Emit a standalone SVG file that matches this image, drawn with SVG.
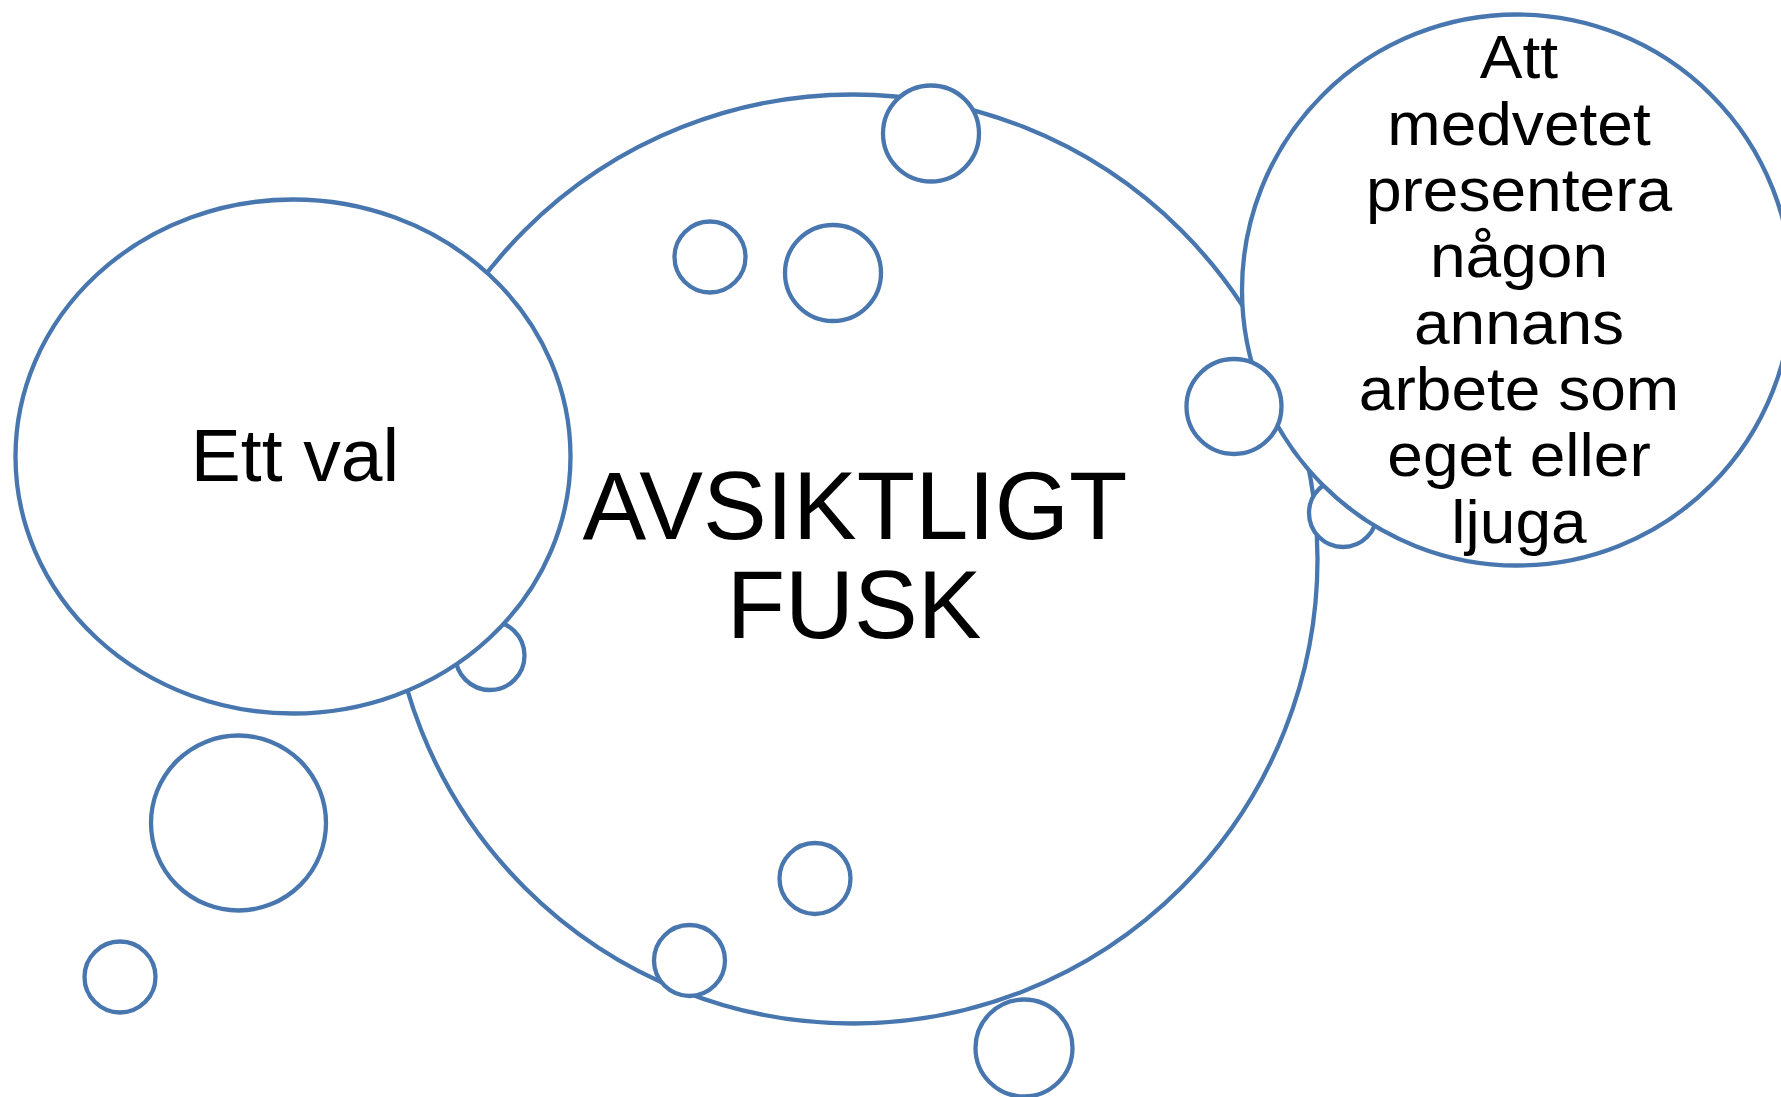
<svg xmlns="http://www.w3.org/2000/svg" width="1781" height="1097" viewBox="0 0 1781 1097">
<style>
.s{fill:#fff;stroke:#4876ae;stroke-width:4.3}
.t{font-family:"Liberation Sans",Arial,sans-serif;fill:#000;text-anchor:middle}
</style>
<rect width="1781" height="1097" fill="#fff"/>
<g id="connectors"></g>
<g id="main">
<circle class="s" cx="853" cy="559" r="464.5"/>
<text class="t" font-size="95.5"><tspan x="855" y="539">AVSIKTLIGT</tspan><tspan x="854" y="638">FUSK</tspan></text>
</g>
<g id="bubble2"><circle class="s" cx="710" cy="257" r="35.5"/></g>
<g id="bubble3"><circle class="s" cx="833" cy="273" r="48"/></g>
<g id="bubble1"><circle class="s" cx="931" cy="133.5" r="48"/></g>
<g id="bubble6"><circle class="s" cx="490" cy="655.5" r="34.5"/></g>
<g id="ettval">
<ellipse class="s" cx="293" cy="456.5" rx="277.5" ry="257"/>
<text class="t" x="295" y="481" font-size="75">Ett val</text>
</g>
<g id="bubble5"><circle class="s" cx="1343" cy="513" r="34"/></g>
<g id="definition">
<ellipse class="s" cx="1517" cy="290" rx="275" ry="275.5"/>
<text class="t" font-size="61" transform="translate(1519,0) scale(1.05,1)"><tspan x="0" y="78.5">Att</tspan><tspan x="0" y="144.8">medvetet</tspan><tspan x="0" y="211.1">presentera</tspan><tspan x="0" y="277.4">någon</tspan><tspan x="0" y="343.7">annans</tspan><tspan x="0" y="410">arbete som</tspan><tspan x="0" y="476.3">eget eller</tspan><tspan x="0" y="542.6">ljuga</tspan></text>
</g>
<g id="bubble4"><circle class="s" cx="1234" cy="406.5" r="47.5"/></g>
<g id="bubble7"><circle class="s" cx="238.5" cy="823" r="87.5"/></g>
<g id="bubble8"><circle class="s" cx="120" cy="977" r="35.5"/></g>
<g id="bubble9"><circle class="s" cx="815" cy="878.5" r="35.5"/></g>
<g id="bubble10"><circle class="s" cx="689.5" cy="960.5" r="35.5"/></g>
<g id="bubble11"><circle class="s" cx="1024" cy="1048" r="48.5"/></g>
</svg>
